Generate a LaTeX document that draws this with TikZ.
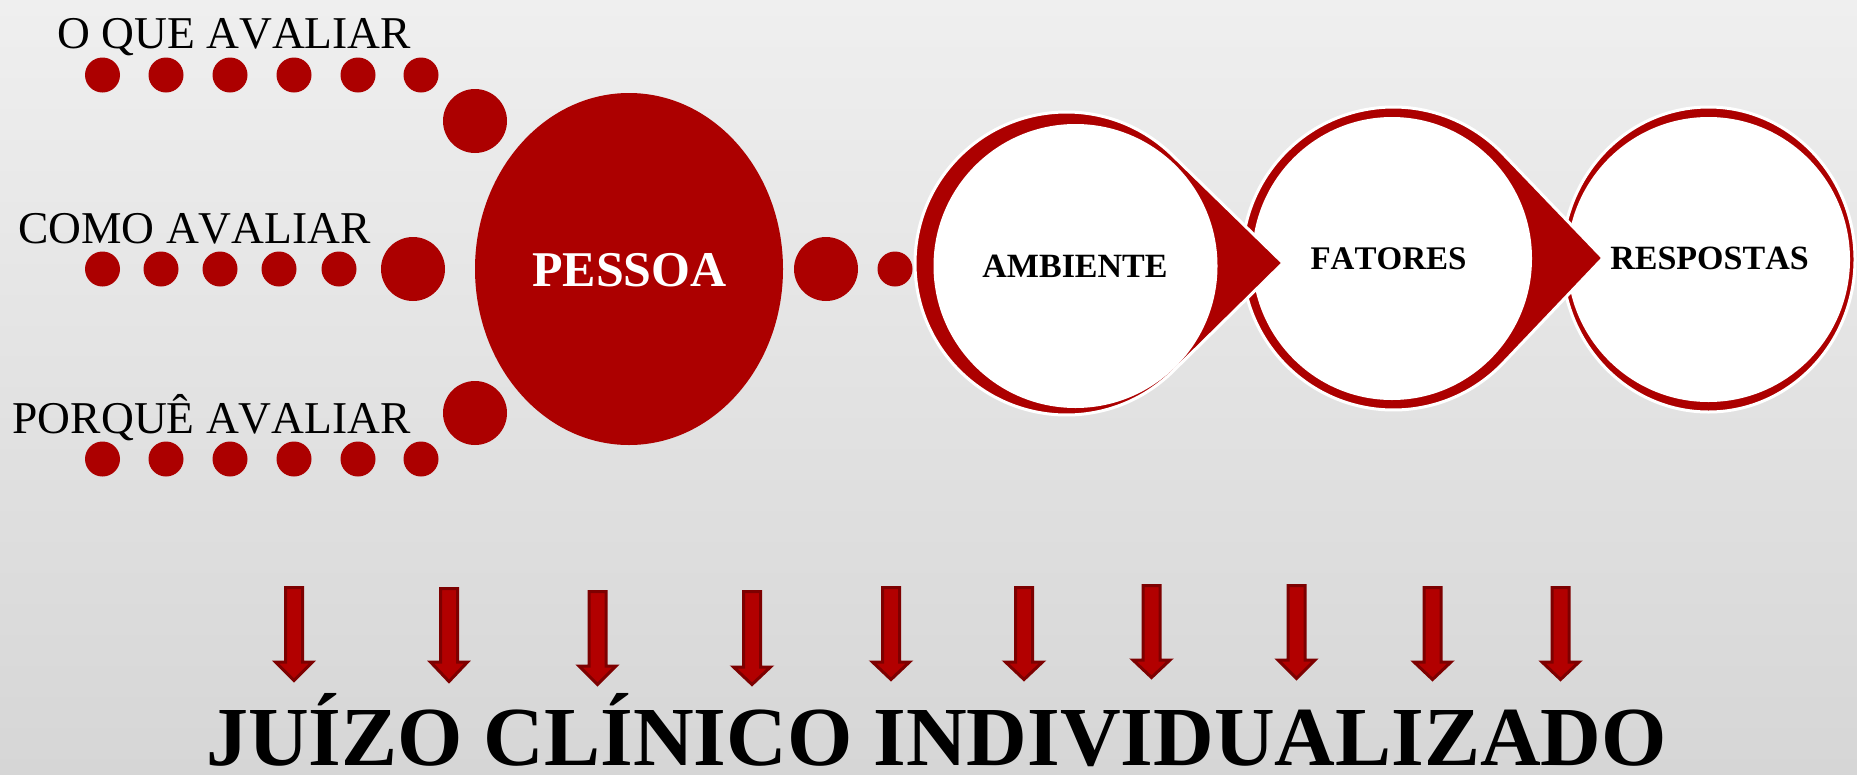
\documentclass[tikz,border=0pt]{standalone}
\usepackage{fontspec}
\setmainfont{Liberation Serif}[Kerning=Off]
\usetikzlibrary{calc}
\definecolor{dred}{RGB}{172,0,0}
\definecolor{adred}{RGB}{178,0,0}
\definecolor{aedge}{RGB}{125,0,0}
\definecolor{bgtop}{RGB}{239,239,239}
\definecolor{bgbot}{RGB}{214,214,214}
\begin{document}
\begin{tikzpicture}[x=1pt,y=-1pt,
  dot/.style={fill=dred},
  ringshape/.style={fill=dred, draw=white, line width=3pt, line join=miter},
  innerdisc/.style={fill=white},
  lefttext/.style={inner sep=0pt, anchor=base west, font=\fontsize{45.5}{50}\selectfont},
  ringtext/.style={inner sep=0pt, anchor=base, font=\fontsize{34}{40}\selectfont\bfseries},
  downarrow/.style={fill=adred, draw=aedge, line width=3pt, line join=miter}
]
\useasboundingbox (0,0) rectangle (1857,774);
\shade[top color=bgtop, bottom color=bgbot] (0,0) rectangle (1857,774);

% left labels
\node[lefttext] (oque) at (57,48) {O QUE AVALIAR};
\node[lefttext] (como) at (18,243) {COMO AVALIAR};
\node[lefttext] (porque) at (12.5,433) {PORQUÊ AVALIAR};

% dot rows
\foreach \x in {102.5,166,230,294,358,421} {
  \fill[dot] (\x,75) circle[radius=17.5];
  \fill[dot] (\x,459) circle[radius=17.5];
}
\foreach \x in {102.5,161,220,279,339} {
  \fill[dot] (\x,269) circle[radius=17.5];
}
\fill[dot] (475,121) circle[radius=32];
\fill[dot] (413,269) circle[radius=32];
\fill[dot] (475,413) circle[radius=32];

% PESSOA
\fill[dot] (629,269) ellipse[x radius=154, y radius=176];
\node[inner sep=0pt, anchor=base, text=white, font=\fontsize{50}{56}\selectfont\bfseries] (pessoa) at (629.5,286) {PESSOA};
\fill[dot] (826,269) circle[radius=32];
\fill[dot] (895,269) circle[radius=17.5];

% ring 3
\filldraw[ringshape] (1708.5,259.5) ellipse[x radius=146.5, y radius=152.5];
\fill[innerdisc] (1708.5,259.5) ellipse[x radius=141.5, y radius=142.5];
% ring 2
\coordinate (c2) at (1393.5,258.5);
\coordinate (t2) at (1603,258);
\filldraw[ringshape] ($(c2)+(43.7:151.5)$) arc[start angle=43.7, end angle=316.3, radius=151.5] -- (t2) -- cycle;
\fill[innerdisc] (1392,258.5) ellipse[x radius=140, y radius=141.5];
% ring 1
\coordinate (c1) at (1066.5,263.5);
\coordinate (t1) at (1283,263);
\filldraw[ringshape] ($(c1)+(45.6:151.5)$) arc[start angle=45.6, end angle=314.4, radius=151.5] -- (t1) -- cycle;
\fill[innerdisc] (1075.5,266) circle[radius=142];

\node[ringtext] (ambiente) at (1075,277) {AMBIENTE};
\node[ringtext, font=\fontsize{33}{40}\selectfont\bfseries] (fatores) at (1388.5,269) {FATORES};
\node[ringtext] (respostas) at (1709.5,269) {RESPOSTAS};

% down arrows
\foreach \x/\t/\h/\p in {294/586/662/682, 449/587/662/683, 597.5/590/666/686, 752/590/667/686, 891/586/662/681, 1024/586/662/681, 1151.5/584/660/679, 1296.5/584/660/680, 1432.5/586/662/681, 1560.5/586/662/681}
  \draw[downarrow] (\x-8.5,\t+1.5) -- (\x+8.5,\t+1.5) -- (\x+8.5,\h) -- (\x+18.5,\h) -- (\x,\p-1.5) -- (\x-18.5,\h) -- (\x-8.5,\h) -- cycle;

% bottom title
\node[inner sep=0pt, anchor=base, font=\fontsize{84}{90}\selectfont\bfseries] (juizo) at (936.5,765) {JUÍZO CLÍNICO INDIVIDUALIZADO};
\end{tikzpicture}
\end{document}
